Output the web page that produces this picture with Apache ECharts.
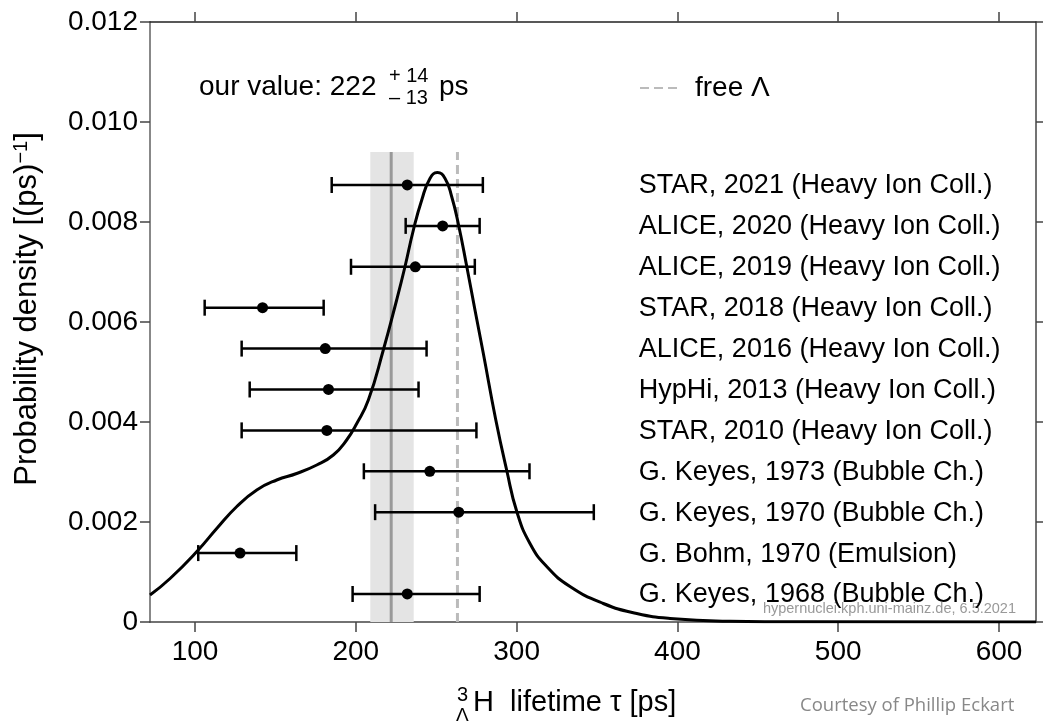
<!DOCTYPE html>
<html>
<head>
<meta charset="utf-8">
<title>Hypertriton lifetime</title>
<script src="https://cdn.jsdelivr.net/npm/echarts@6.0.0/dist/echarts.min.js"></script>
<style>
  html, body { margin: 0; padding: 0; background: #fff; }
  #main { width: 1043px; height: 725px; }
</style>
</head>
<body>
<div id="main"></div>
<script>
// axis ticks
var tauTicks = [100, 200, 300, 400, 500, 600];

// measurements, top to bottom
var experiments = [
  'STAR, 2021 (Heavy Ion Coll.)',
  'ALICE, 2020 (Heavy Ion Coll.)',
  'ALICE, 2019 (Heavy Ion Coll.)',
  'STAR, 2018 (Heavy Ion Coll.)',
  'ALICE, 2016 (Heavy Ion Coll.)',
  'HypHi, 2013 (Heavy Ion Coll.)',
  'STAR, 2010 (Heavy Ion Coll.)',
  'G. Keyes, 1973 (Bubble Ch.)',
  'G. Keyes, 1970 (Bubble Ch.)',
  'G. Bohm, 1970 (Emulsion)',
  'G. Keyes, 1968 (Bubble Ch.)'
];
var tau     = [232, 254, 237, 142, 181, 183, 182, 246, 264, 128, 232];
var tauLow  = [185, 231, 197, 106, 129, 134, 129, 205, 212, 102, 198];
var tauHigh = [279, 277, 274, 180, 244, 239, 275, 308, 348, 163, 277];

// probability density curve
var curveTau = [72, 84.5, 102, 113.5, 126, 138.4, 150.8, 163.2, 175.7, 186, 194.3, 200.6, 207.8,
  217.1, 225.4, 230.6, 235.8, 241, 246.1, 250.7, 255.5, 259.6, 263.7, 269, 274.1, 279.3, 287,
  293.8, 300.1, 308.3, 318.7, 333.2, 353.9, 374.7, 395.4, 432.7, 480, 623];
var curveDensity = [0.00054, 0.00087, 0.00144, 0.00187, 0.00231, 0.00264, 0.00284, 0.00297, 0.00314, 0.00334, 0.00364, 0.00397, 0.00444,
  0.00544, 0.00644, 0.00711, 0.00784, 0.00844, 0.00887, 0.00899, 0.00887, 0.00851, 0.00797, 0.00711, 0.00624, 0.00537, 0.00405,
  0.00304, 0.00221, 0.00157, 0.00111, 0.00071, 0.00037, 0.00017, 0.00007, 0.000015, 0.000003, 0];

var ourValue = 222, ourPlus = 14, ourMinus = 13;
var freeLambda = 263.2;
var bandTop = 0.0094;

var FONT = '"Liberation Sans", Arial, sans-serif';
var labelTau = 376;   // where the experiment names start

var curveData = curveTau.map(function (t, i) { return [t, curveDensity[i]]; });
var barData = experiments.map(function (n, i) { return [i, tau[i], tauLow[i], tauHigh[i]]; });

function renderBar(params, api) {
  var row = api.value(0);
  var lo = api.coord([api.value(2), row]);
  var hi = api.coord([api.value(3), row]);
  var c = api.coord([api.value(1), row]);
  var lbl = api.coord([labelTau, row]);
  var cap = 8;
  var st = { stroke: '#000', lineWidth: 2.5 };
  return {
    type: 'group',
    children: [
      { type: 'line', shape: { x1: lo[0], y1: lo[1], x2: hi[0], y2: hi[1] }, style: st },
      { type: 'line', shape: { x1: lo[0], y1: lo[1] - cap, x2: lo[0], y2: lo[1] + cap }, style: st },
      { type: 'line', shape: { x1: hi[0], y1: hi[1] - cap, x2: hi[0], y2: hi[1] + cap }, style: st },
      { type: 'circle', shape: { cx: c[0], cy: c[1], r: 5.5 }, style: { fill: '#000' } },
      { type: 'text', x: lbl[0], y: lbl[1] + 1,
        style: { text: experiments[params.dataIndex], fill: '#000', font: '27px ' + FONT,
                 align: 'left', verticalAlign: 'middle' } }
    ]
  };
}

function renderBand(params, api) {
  var p1 = api.coord([api.value(0), api.value(2)]);
  var p2 = api.coord([api.value(1), 0]);
  return { type: 'rect', shape: { x: p1[0], y: p1[1], width: p2[0] - p1[0], height: p2[1] - p1[1] },
           style: { fill: '#e4e4e4' } };
}

var chart = echarts.init(document.getElementById('main'));
var option = {
  animation: false,
  backgroundColor: '#fff',
  textStyle: { fontFamily: FONT },
  grid: { left: 150, top: 22, right: 7, bottom: 103, containLabel: false, outerBoundsMode: 'none' },
  legend: {
    data: ['free Λ'],
    left: 639, top: 74, padding: 0,
    itemWidth: 41, itemHeight: 14,
    selectedMode: false,
    itemStyle: { color: 'rgba(0,0,0,0)', borderWidth: 0, opacity: 0 },
    textStyle: { fontSize: 28, color: '#000', fontFamily: FONT, padding: [0, 0, 0, 9] }
  },
  xAxis: [
    {
      type: 'value', min: 72, max: 623, position: 'bottom',
      axisLine: { onZero: false, lineStyle: { color: '#444', width: 1.5 } },
      axisTick: { customValues: tauTicks, length: 10, lineStyle: { color: '#444', width: 1.5 } },
      axisLabel: { customValues: tauTicks, fontSize: 28, color: '#000', margin: 16, fontFamily: FONT },
      splitLine: { show: false }
    },
    {
      type: 'value', min: 72, max: 623, position: 'top',
      axisLine: { onZero: false, lineStyle: { color: '#222', width: 1.5 } },
      axisTick: { customValues: tauTicks, length: 10, lineStyle: { color: '#444', width: 1.5 } },
      axisLabel: { show: false },
      splitLine: { show: false }
    }
  ],
  yAxis: [
    {
      type: 'value', min: 0, max: 0.012, interval: 0.002, position: 'left',
      name: 'Probability density [(ps){sup|−1}]',
      nameLocation: 'middle', nameGap: 106, nameRotate: 90,
      nameTextStyle: {
        fontSize: 31, color: '#000', fontFamily: FONT, padding: [0, 0, 0, 26],
        rich: { sup: { fontSize: 20, color: '#000', fontFamily: FONT, verticalAlign: 'top', padding: [0, 0, 13, 0] } }
      },
      axisLine: { show: true, onZero: false, lineStyle: { color: '#888', width: 2 } },
      axisTick: { show: true, length: 10, lineStyle: { color: '#444', width: 1.5 } },
      axisLabel: {
        fontSize: 28, color: '#000', margin: 12, fontFamily: FONT,
        formatter: function (v) { return v === 0 ? '0' : v.toFixed(3); }
      },
      splitLine: { show: false }
    },
    { type: 'value', inverse: true, min: -3.985, max: 10.685, position: 'left', show: false },
    {
      type: 'value', min: 0, max: 0.012, interval: 0.002, position: 'right',
      axisLine: { show: true, onZero: false, lineStyle: { color: '#444', width: 1.5 } },
      axisTick: { show: true, length: 10, lineStyle: { color: '#444', width: 1.5 } },
      axisLabel: { show: false },
      splitLine: { show: false }
    }
  ],
  graphic: [
    { type: 'text', x: 199, y: 87, style: { text: 'our value: ' + ourValue, font: '28px ' + FONT, fill: '#000', verticalAlign: 'middle' } },
    { type: 'text', x: 389, y: 76, style: { text: '+ ' + ourPlus, font: '20px ' + FONT, fill: '#000', verticalAlign: 'middle' } },
    { type: 'text', x: 389, y: 98, style: { text: '– ' + ourMinus, font: '20px ' + FONT, fill: '#000', verticalAlign: 'middle' } },
    { type: 'text', x: 439, y: 87, style: { text: 'ps', font: '28px ' + FONT, fill: '#000', verticalAlign: 'middle' } },
    { type: 'text', x: 457, y: 695, style: { text: '3', font: '20px ' + FONT, fill: '#000', verticalAlign: 'middle' } },
    { type: 'text', x: 456, y: 716, style: { text: 'Λ', font: '19px ' + FONT, fill: '#000', verticalAlign: 'middle' } },
    { type: 'text', x: 473, y: 703, style: { text: 'H  lifetime τ [ps]', font: '29px ' + FONT, fill: '#000', verticalAlign: 'middle' } },
    { type: 'text', x: 1016, y: 609, style: { text: 'hypernuclei.kph.uni-mainz.de, 6.5.2021', font: '14.5px ' + FONT, fill: '#999', align: 'right', verticalAlign: 'middle' } },
    { type: 'text', x: 800, y: 706, style: { text: 'Courtesy of Phillip Eckart', font: '18.5px "Open Sans", sans-serif', fill: '#888', verticalAlign: 'middle' } }
  ],
  series: [
    {
      name: 'band', type: 'custom', xAxisIndex: 0, yAxisIndex: 0, z: 1,
      renderItem: renderBand,
      data: [[ourValue - ourMinus, ourValue + ourPlus, bandTop]]
    },
    {
      name: 'our value', type: 'line', xAxisIndex: 0, yAxisIndex: 0, z: 2,
      symbol: 'none', lineStyle: { color: '#999', width: 3 },
      data: [[ourValue, 0], [ourValue, bandTop]]
    },
    {
      name: 'free Λ', type: 'line', xAxisIndex: 0, yAxisIndex: 0, z: 2,
      symbol: 'none', color: '#bbb', lineStyle: { color: '#bbb', width: 3, type: [9, 5] },
      data: [[freeLambda, 0], [freeLambda, bandTop]]
    },
    {
      name: 'density', type: 'line', xAxisIndex: 0, yAxisIndex: 0, z: 3,
      symbol: 'none', smooth: 0.5, lineStyle: { color: '#000', width: 3 },
      data: curveData
    },
    {
      name: 'measurements', type: 'custom', xAxisIndex: 0, yAxisIndex: 1, z: 4,
      renderItem: renderBar,
      data: barData
    }
  ]
};
chart.setOption(option);
</script>
</body>
</html>
